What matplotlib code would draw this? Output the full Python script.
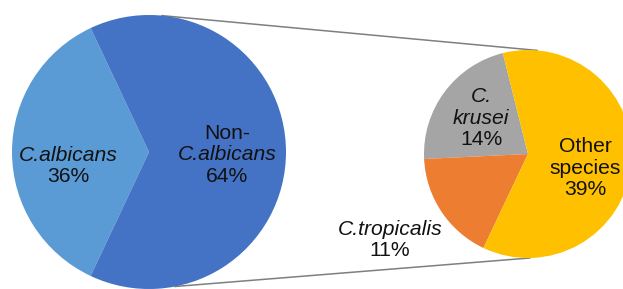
import numpy as np
import matplotlib.pyplot as plt

plt.rcParams["font.family"] = ["Liberation Sans", "DejaVu Sans"]

# data
main_names = ["C.albicans", "Non-C.albicans"]
main_values = [36, 64]
main_colors = ["#5B9BD5", "#4472C4"]
sub_names = ["C. krusei", "C.tropicalis", "Other species"]
sub_values = [14, 11, 39]
sub_colors = ["#A5A5A5", "#ED7D31", "#FFC000"]

W, H = 623, 289
fig = plt.figure(figsize=(W / 100, H / 100), dpi=100)
ax = fig.add_axes([0, 0, 1, 1])

big_c, big_r = (149, H - 152), 137
small_c, small_r = (528, H - 154), 104

# big pie: C.albicans centred on the left
start_big = 180 - main_values[0] / sum(main_values) * 360 / 2
ax.pie(main_values, colors=main_colors, startangle=start_big, center=big_c,
       radius=big_r, wedgeprops=dict(linewidth=0))
ax.pie(sub_values, colors=sub_colors, startangle=104, center=small_c,
       radius=small_r, wedgeprops=dict(linewidth=0))

# connector lines
def pt(c, r, deg):
    a = np.deg2rad(deg)
    return c[0] + r * np.cos(a), c[1] + r * np.sin(a)

for a1, a2 in [(84.5, 85), (-79, -89)]:
    x1, y1 = pt(big_c, big_r, a1)
    x2, y2 = pt(small_c, small_r, a2)
    ax.plot([x1, x2], [y1, y2], color="#7F7F7F", lw=1.1, zorder=0)

ax.set_xlim(0, W)
ax.set_ylim(0, H)
ax.set_aspect("equal")
ax.axis("off")

LS = 21.5
FS = 15.2

def block(x, yc, lines):
    n = len(lines)
    for i, (s, it) in enumerate(lines):
        y = yc + (i - (n - 1) / 2) * LS
        ax.text(x, H - y, s, ha="center", va="center", fontsize=FS,
                fontstyle="italic" if it else "normal", color="#111111")

block(68, 166, [(main_names[0], True), (f"{main_values[0]}%", False)])
block(227, 155, [("Non-", False), (main_names[1][4:], True), (f"{main_values[1]}%", False)])
block(481, 118, [("C.", True), ("krusei", True), (f"{sub_values[0]}%", False)])
block(585, 168, [("Other", False), ("species", False), (f"{sub_values[2]}%", False)])
block(390, 240, [(sub_names[1], True), (f"{sub_values[1]}%", False)])

fig.savefig("out.png", dpi=100, facecolor="white")
